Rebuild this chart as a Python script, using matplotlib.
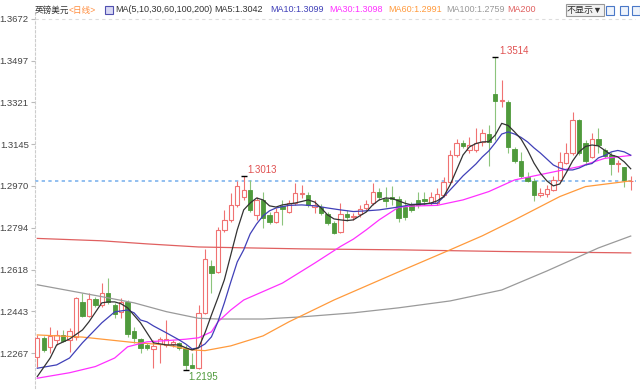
import matplotlib
matplotlib.use("Agg")
import matplotlib.pyplot as plt
from matplotlib.patches import Rectangle

plt.rcParams['font.family'] = ['Liberation Sans', 'Noto Sans CJK SC', 'DejaVu Sans']

# 日线 K 线数据 (开 高 低 收)
opens = [1.2250, 1.2329, 1.2292, 1.2322, 1.2343, 1.2322, 1.2333, 1.2483, 1.2422, 1.2493,
         1.2469, 1.2521, 1.2469, 1.2441, 1.2483, 1.2360, 1.2324, 1.2299, 1.2284, 1.2304,
         1.2301, 1.2305, 1.2310, 1.2289, 1.2217, 1.2204, 1.2436, 1.2633, 1.2609, 1.2785,
         1.2827, 1.2890, 1.2924, 1.2953, 1.2848, 1.2911, 1.2848, 1.2820, 1.2886, 1.2862,
         1.2898, 1.2936, 1.2932, 1.2881, 1.2881, 1.2852, 1.2814, 1.2776, 1.2852, 1.2839,
         1.2852, 1.2877, 1.2897, 1.2946, 1.2915, 1.2923, 1.2914, 1.2883, 1.2890, 1.2911,
         1.2915, 1.2897, 1.2897, 1.2932, 1.2988, 1.3100, 1.3149, 1.3121, 1.3121, 1.3156,
         1.3188, 1.3357, 1.3327, 1.3324, 1.3124, 1.3076, 1.3006, 1.2992, 1.2932, 1.2936,
         1.2953, 1.2995, 1.3068, 1.3107, 1.3247, 1.3149, 1.3093, 1.3166, 1.3121, 1.3100,
         1.3062, 1.3048, 1.2989]
highs = [1.2343, 1.2339, 1.2378, 1.2364, 1.2364, 1.2373, 1.2504, 1.2520, 1.2518, 1.2503,
         1.2560, 1.2582, 1.2478, 1.2498, 1.2490, 1.2378, 1.2331, 1.2308, 1.2322, 1.2333,
         1.2406, 1.2322, 1.2315, 1.2301, 1.2268, 1.2469, 1.2705, 1.2659, 1.2797, 1.2869,
         1.2940, 1.2991, 1.3013, 1.2995, 1.2924, 1.2945, 1.2860, 1.2877, 1.2911, 1.2911,
         1.2982, 1.2974, 1.2946, 1.2911, 1.2894, 1.2860, 1.2823, 1.2898, 1.2869, 1.2856,
         1.2890, 1.2911, 1.2982, 1.2961, 1.2967, 1.2970, 1.2927, 1.2911, 1.2902, 1.2944,
         1.2944, 1.2944, 1.2961, 1.3008, 1.3121, 1.3167, 1.3163, 1.3177, 1.3214, 1.3209,
         1.3226, 1.3514, 1.3416, 1.3331, 1.3134, 1.3113, 1.3029, 1.3003, 1.2961, 1.2974,
         1.3012, 1.3114, 1.3149, 1.3282, 1.3251, 1.3163, 1.3193, 1.3214, 1.3130, 1.3114,
         1.3079, 1.3051, 1.3012]
lows = [1.2210, 1.2273, 1.2266, 1.2301, 1.2315, 1.2273, 1.2322, 1.2417, 1.2419, 1.2461,
        1.2462, 1.2474, 1.2415, 1.2414, 1.2336, 1.2310, 1.2268, 1.2280, 1.2204, 1.2224,
        1.2293, 1.2294, 1.2280, 1.2195, 1.2202, 1.2200, 1.2430, 1.2520, 1.2605, 1.2776,
        1.2818, 1.2881, 1.2911, 1.2860, 1.2827, 1.2793, 1.2810, 1.2814, 1.2806, 1.2856,
        1.2890, 1.2919, 1.2881, 1.2856, 1.2848, 1.2806, 1.2768, 1.2772, 1.2823, 1.2827,
        1.2839, 1.2869, 1.2890, 1.2911, 1.2883, 1.2890, 1.2820, 1.2827, 1.2860, 1.2877,
        1.2890, 1.2890, 1.2890, 1.2924, 1.2982, 1.3092, 1.3130, 1.3108, 1.3113, 1.3138,
        1.3054, 1.3163, 1.3302, 1.3108, 1.3067, 1.3003, 1.2987, 1.2907, 1.2924, 1.2924,
        1.2949, 1.2991, 1.3062, 1.3100, 1.3100, 1.3058, 1.3088, 1.3108, 1.3088, 1.3016,
        1.3029, 1.2967, 1.2953]
closes = [1.2329, 1.2280, 1.2339, 1.2343, 1.2319, 1.2361, 1.2498, 1.2423, 1.2493, 1.2469,
          1.2519, 1.2480, 1.2429, 1.2483, 1.2347, 1.2331, 1.2287, 1.2287, 1.2297, 1.2325,
          1.2325, 1.2312, 1.2289, 1.2217, 1.2206, 1.2436, 1.2663, 1.2604, 1.2785, 1.2827,
          1.2890, 1.2970, 1.2953, 1.2869, 1.2911, 1.2835, 1.2820, 1.2862, 1.2873, 1.2898,
          1.2940, 1.2942, 1.2890, 1.2890, 1.2856, 1.2814, 1.2773, 1.2852, 1.2841, 1.2844,
          1.2873, 1.2894, 1.2946, 1.2925, 1.2905, 1.2915, 1.2834, 1.2841, 1.2869, 1.2890,
          1.2907, 1.2925, 1.2936, 1.2988, 1.3100, 1.3152, 1.3138, 1.3142, 1.3152, 1.3193,
          1.3156, 1.3329, 1.3331, 1.3134, 1.3076, 1.3012, 1.2992, 1.2932, 1.2942, 1.2956,
          1.2995, 1.3072, 1.3107, 1.3247, 1.3107, 1.3076, 1.3166, 1.3142, 1.3096, 1.3062,
          1.3068, 1.2995, 1.2991]

# 均线 (读图取点)
ma5_idx = [0, 2, 3, 5, 7, 8, 10, 11, 12, 13, 14, 16, 18, 20, 22, 23, 24, 25, 26, 27,
           28, 29, 30, 31, 32, 33, 34, 35, 36, 37, 38, 40, 42, 43, 44, 45, 46, 47, 48, 49,
           50, 51, 52, 53, 54, 55, 56, 57, 58, 60, 61, 62, 63, 64, 65, 66, 67, 68, 69, 70,
           71, 72, 73, 74, 75, 76, 77, 78, 79, 80, 81, 82, 83, 84, 85, 86, 87, 88, 89, 90,
           91, 92]
ma5_val = [1.2168, 1.2246, 1.2301, 1.2326, 1.2364, 1.2398, 1.2478, 1.2482, 1.2482, 1.2474,
           1.2457, 1.2394, 1.2310, 1.2301, 1.2301, 1.2289, 1.2280, 1.2289, 1.2352, 1.2427,
           1.2499, 1.2575, 1.2680, 1.2785, 1.2869, 1.2898, 1.2919, 1.2911, 1.2886, 1.2881,
           1.2890, 1.2898, 1.2911, 1.2902, 1.2877, 1.2848, 1.2831, 1.2827, 1.2824, 1.2827,
           1.2844, 1.2860, 1.2890, 1.2911, 1.2919, 1.2917, 1.2907, 1.2897, 1.2890, 1.2894,
           1.2898, 1.2907, 1.2925, 1.2974, 1.3037, 1.3100, 1.3134, 1.3148, 1.3155, 1.3156,
           1.3184, 1.3233, 1.3224, 1.3197, 1.3167, 1.3121, 1.3066, 1.3023, 1.2991, 1.2970,
           1.2978, 1.3025, 1.3075, 1.3113, 1.3136, 1.3142, 1.3138, 1.3119, 1.3100, 1.3092,
           1.3071, 1.3042]
ma10_idx = [0, 3, 5, 7, 10, 12, 14, 15, 16, 17, 18, 20, 22, 23, 24, 25, 26, 27, 28, 29,
            30, 31, 32, 33, 34, 35, 36, 37, 39, 41, 43, 45, 47, 49, 51, 53, 55, 57, 58, 60,
            62, 63, 64, 65, 66, 67, 68, 69, 70, 71, 72, 73, 74, 75, 76, 77, 78, 79, 80, 81,
            82, 83, 84, 85, 86, 87, 88, 89, 90, 91, 92]
ma10_val = [1.2203, 1.2217, 1.2246, 1.2310, 1.2394, 1.2440, 1.2448, 1.2436, 1.2406, 1.2398,
            1.2381, 1.2352, 1.2322, 1.2305, 1.2284, 1.2289, 1.2305, 1.2335, 1.2398, 1.2478,
            1.2566, 1.2650, 1.2701, 1.2768, 1.2810, 1.2844, 1.2865, 1.2877, 1.2888, 1.2890,
            1.2886, 1.2877, 1.2869, 1.2862, 1.2865, 1.2869, 1.2877, 1.2886, 1.2892, 1.2894,
            1.2897, 1.2924, 1.2953, 1.2982, 1.3012, 1.3037, 1.3062, 1.3092, 1.3117, 1.3151,
            1.3188, 1.3197, 1.3188, 1.3174, 1.3155, 1.3130, 1.3108, 1.3083, 1.3058, 1.3045,
            1.3037, 1.3037, 1.3045, 1.3058, 1.3064, 1.3088, 1.3098, 1.3113, 1.3119, 1.3113,
            1.3099]
ma30_idx = [0, 5, 9, 12, 14, 17, 20, 23, 25, 27, 28, 30, 32, 38, 43, 47, 49, 51, 53, 56,
            58, 62, 66, 70, 74, 79, 84, 88, 92]
ma30_val = [1.2161, 1.2184, 1.2210, 1.2246, 1.2293, 1.2314, 1.2319, 1.2325, 1.2331, 1.2356,
            1.2398, 1.2448, 1.2490, 1.2561, 1.2645, 1.2715, 1.2746, 1.2785, 1.2827, 1.2880,
            1.2885, 1.2888, 1.2911, 1.2946, 1.2995, 1.3023, 1.3051, 1.3086, 1.3098]
ma60_idx = [0, 7, 15, 20, 24, 26, 28, 30, 35, 39, 46, 56, 64, 69, 74, 81, 85, 92]
ma60_val = [1.2343, 1.2334, 1.2311, 1.2301, 1.2280, 1.2277, 1.2287, 1.2297, 1.2339, 1.2398,
            1.2490, 1.2608, 1.2701, 1.2760, 1.2827, 1.2925, 1.2967, 1.2991]
ma100_idx = [0, 10, 15, 20, 25, 28, 35, 41, 49, 56, 64, 72, 79, 87, 92]
ma100_val = [1.2554, 1.2504, 1.2478, 1.2441, 1.2413, 1.2410, 1.2410, 1.2419, 1.2436, 1.2457,
             1.2486, 1.2532, 1.2612, 1.2709, 1.2759]
ma200_idx = [0, 10, 17, 25, 33, 41, 56, 72, 92]
ma200_val = [1.2749, 1.2739, 1.2726, 1.2713, 1.2709, 1.2705, 1.2701, 1.2694, 1.2688]

ytick_vals = [1.2267, 1.2443, 1.2618, 1.2794, 1.2970, 1.3145, 1.3321, 1.3497, 1.3672]
mark_high = [32, 71]
mark_low = [23]

RED = '#f07272'
GREEN = '#4f9a3c'
GREEN_WICK = '#8cc47c'

fig = plt.figure(figsize=(6.4, 3.9), dpi=100)
ax = fig.add_axes([35 / 640, 2 / 390, 601 / 640, 376 / 390])

bw = 0.68
for i in range(len(closes)):
    o, h, l, c = opens[i], highs[i], lows[i], closes[i]
    if c >= o:
        ax.vlines(i, c, h, color=RED, lw=0.8, zorder=2)
        ax.vlines(i, l, o, color=RED, lw=0.8, zorder=2)
        ax.add_patch(Rectangle((i - bw / 2, o), bw, max(c - o, 0.00004),
                               facecolor='white', edgecolor=RED, lw=0.8, zorder=3))
    else:
        ax.vlines(i, l, h, color=GREEN_WICK, lw=0.8, zorder=2)
        ax.add_patch(Rectangle((i - bw / 2, c), bw, o - c,
                               facecolor=GREEN, edgecolor=GREEN, lw=0.6, zorder=3))

ax.plot(ma200_idx, ma200_val, color='#e06060', lw=0.9, zorder=4)
ax.plot(ma100_idx, ma100_val, color='#9a9a9a', lw=0.9, zorder=4)
ax.plot(ma60_idx, ma60_val, color='#ff9a3c', lw=0.9, zorder=4)
ax.plot(ma30_idx, ma30_val, color='#ff30ff', lw=0.9, zorder=4)
ax.plot(ma10_idx, ma10_val, color='#4040b8', lw=0.9, zorder=4)
ax.plot(ma5_idx, ma5_val, color='#333333', lw=0.9, zorder=4)

# 最新价虚线
ax.axhline(closes[-1], color='#7fb4ee', lw=1.2, ls=(0, (2, 2)), zorder=1)
ax.axhline(ytick_vals[-1], color='#dddddd', lw=0.8, ls=(0, (3, 3)), zorder=0)

for i in mark_high:
    ax.plot(i, highs[i], marker='_', color='black', ms=5, mew=1, zorder=5)
    ax.annotate(f"{highs[i]:.4f}", (i, highs[i]), xytext=(4, 1), textcoords='offset pixels',
                color='#e05050', fontsize=7, va='bottom', ha='left')
for i in mark_low:
    ax.plot(i, lows[i], marker='_', color='black', ms=5, mew=1, zorder=5)
    ax.annotate(f"{lows[i]:.4f}", (i, lows[i]), xytext=(3, -2), textcoords='offset pixels',
                color='#4f9a3c', fontsize=7, va='top', ha='left')

ax.set_xlim(-0.357, 92.82)
ax.set_ylim(1.21198, 1.37014)
ax.set_yticks(ytick_vals)
ax.set_yticklabels([f"{v:.4f}" for v in ytick_vals])
ax.set_xticks([])
ax.tick_params(axis='y', direction='out', length=3, color='#bbbbbb', labelsize=6.8,
               labelcolor='#444444', pad=1.5)
for s in ['top', 'right', 'bottom']:
    ax.spines[s].set_visible(False)
ax.spines['left'].set_color('#cccccc')
ax.spines['left'].set_linestyle((0, (2, 2)))
ax.spines['left'].set_linewidth(0.8)

# 顶部标题栏
ty = 1 - 10 / 390
fig.text(35 / 640, ty, "英镑美元", fontsize=6.2, color='#333333', va='center')
fig.text(69 / 640, ty, "<日线>", fontsize=6.2, color='#ff8c3c', va='center')
fig.add_artist(Rectangle((105 / 640, 1 - 14 / 390), 8 / 640, 8 / 390, transform=fig.transFigure,
                         facecolor='#d8d8f4', edgecolor='#5050b0', lw=0.8))
fig.text(115 / 640, ty, "MA(5,10,30,60,100,200)", fontsize=6.5, color='#333333', va='center')
headers = [("MA5:1.3042", '#333333', 214), ("MA10:1.3099", '#4040b8', 270),
           ("MA30:1.3098", '#ff30ff', 329), ("MA60:1.2991", '#ff9a3c', 388),
           ("MA100:1.2759", '#999999', 446), ("MA200", '#e06060', 507)]
for txt, col, px in headers:
    fig.text(px / 640, ty, txt, fontsize=6.5, color=col, va='center')
fig.text(567 / 640, ty, "不显示▼", fontsize=6.5, color='#333333', va='center',
         bbox=dict(boxstyle='square,pad=0.15', fc='#f2f2f2', ec='#999999', lw=0.8))
for px in [606, 620, 632]:
    fig.add_artist(Rectangle((px / 640, 1 - 15 / 390), 8 / 640, 9 / 390,
                             transform=fig.transFigure, facecolor='#eef3fb',
                             edgecolor='#4a78c8', lw=0.8))

fig.savefig("out.png", dpi=100)
